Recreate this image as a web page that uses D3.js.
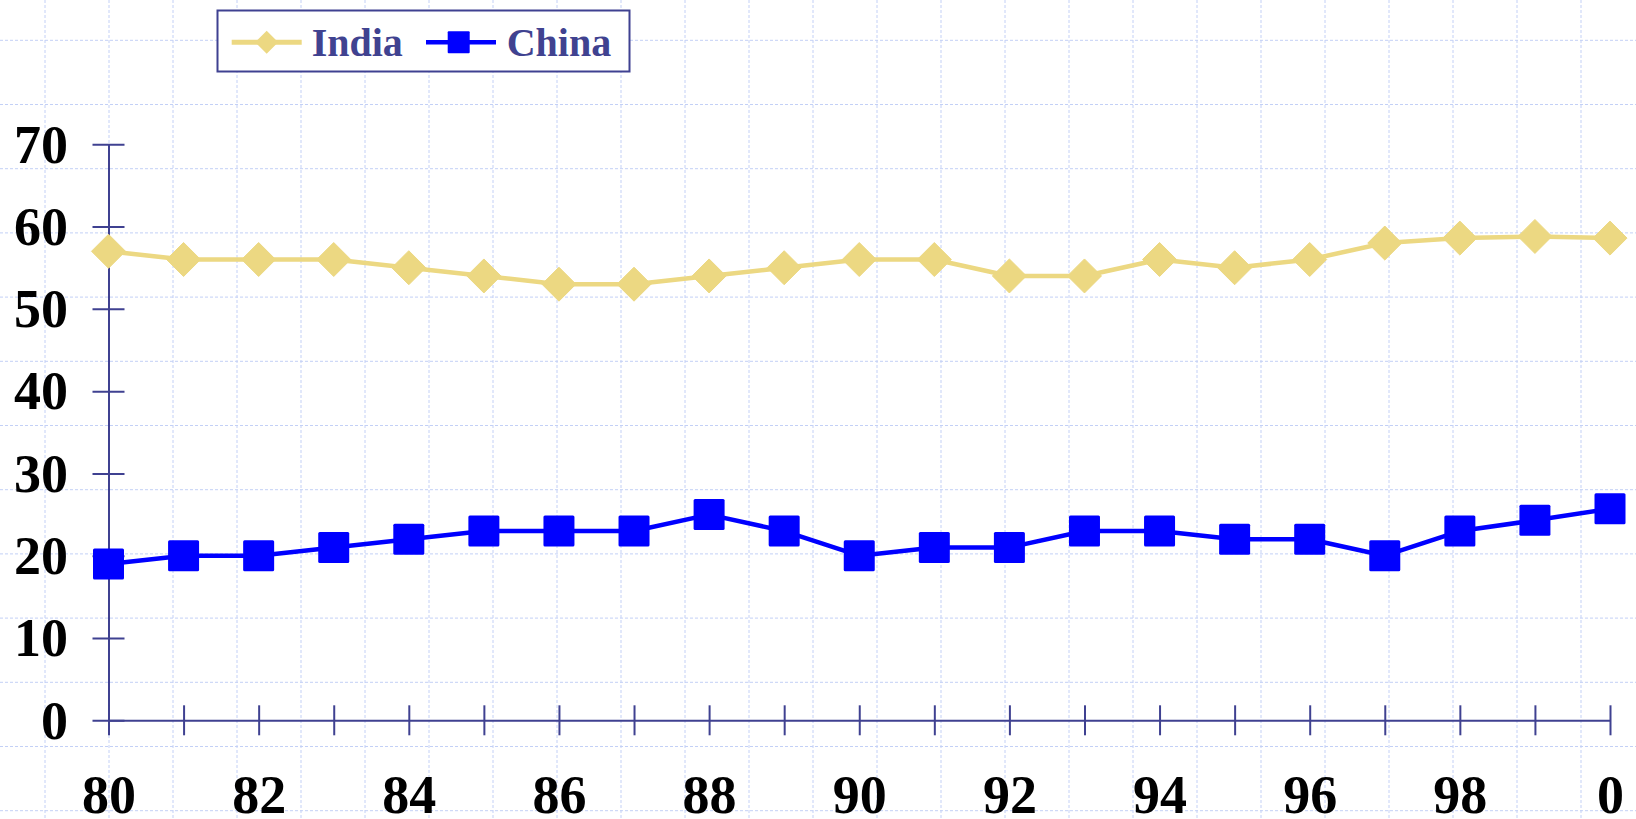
<!DOCTYPE html>
<html>
<head>
<meta charset="utf-8">
<script src="https://cdn.jsdelivr.net/npm/d3@7"></script>
<style>
  html, body { margin: 0; padding: 0; background: #fff; }
  svg { display: block; }
  text { font-family: "Liberation Serif", "Times New Roman", serif; font-weight: bold; }
</style>
</head>
<body>
<svg id="chart" width="1636" height="819"></svg>
<script>
// Years along the x axis (two-digit form) and the ones that carry a label
const years = ["80","81","82","83","84","85","86","87","88","89","90",
               "91","92","93","94","95","96","97","98","99","0"];
const yearLabels = ["80","82","84","86","88","90","92","94","96","98","0"];

// Series values, one per year
const india = [57, 56, 56, 56, 55, 54, 53, 53, 54, 55, 56,
               56, 54, 54, 56, 55, 56, 58, 58.6, 58.8, 58.6];
const china = [19, 20, 20, 21, 22, 23, 23, 23, 25, 23, 20,
               21, 21, 23, 23, 22, 22, 20, 23, 24.3, 25.7];

const yTicks = [0, 10, 20, 30, 40, 50, 60, 70];

const seriesNames = ["India", "China"];
const seriesColors = ["#ecd882", "#0000ff"];

const W = 1636, H = 819;
const axisColor = "#3f4191";

const svg = d3.select("#chart");

// Background page grid (light dashed lines)
const grid = svg.append("g").attr("class", "page-grid");
for (let gx = 45; gx <= W; gx += 64) {
  grid.append("line").attr("x1", gx).attr("x2", gx).attr("y1", 0).attr("y2", H);
}
for (let gy = 40.3; gy <= H; gy += 64.2) {
  grid.append("line").attr("x1", 0).attr("x2", W).attr("y1", gy).attr("y2", gy);
}
grid.selectAll("line")
  .attr("stroke", "#c3d0f6")
  .attr("stroke-width", 1)
  .attr("stroke-dasharray", "3,2");

// Scales
const x = d3.scalePoint().domain(years).range([108.5, 1610]);
const y = d3.scaleLinear().domain([0, 70]).range([720.3, 144.3]);

// Y axis with ticks crossing the axis line
const yAxis = svg.append("g")
  .attr("transform", `translate(${x(years[0])},0)`)
  .call(d3.axisLeft(y).tickValues(yTicks).tickSize(16).tickSizeOuter(0).tickFormat(d3.format("d")));
yAxis.select(".domain").attr("stroke", axisColor).attr("stroke-width", 2);
yAxis.selectAll(".tick line").attr("x1", 16).attr("stroke", axisColor).attr("stroke-width", 2);
yAxis.selectAll(".tick text")
  .attr("x", -40.5)
  .attr("dy", "0.33em")
  .attr("fill", "#000")
  .style("font-size", "54px")
  .style("font-family", "'Liberation Serif', 'Times New Roman', serif")
  .style("font-weight", "bold");

// X axis with ticks crossing the axis line, labels on even years
const xAxis = svg.append("g")
  .attr("transform", `translate(0,${y(0)})`)
  .call(d3.axisBottom(x).tickSize(15).tickSizeOuter(0)
    .tickFormat(d => yearLabels.includes(d) ? d : ""));
xAxis.select(".domain").attr("stroke", axisColor).attr("stroke-width", 2);
xAxis.selectAll(".tick line").attr("y1", -15).attr("stroke", axisColor).attr("stroke-width", 2);
xAxis.selectAll(".tick text")
  .attr("y", 92.7)
  .attr("dy", 0)
  .attr("fill", "#000")
  .style("font-size", "54px")
  .style("font-family", "'Liberation Serif', 'Times New Roman', serif")
  .style("font-weight", "bold");

// Lines
const line = d3.line().x((d, i) => x(years[i])).y(d => y(d));

svg.append("path").datum(india)
  .attr("d", line).attr("fill", "none")
  .attr("stroke", seriesColors[0]).attr("stroke-width", 4.5).attr("stroke-linejoin", "round");

svg.append("path").datum(china)
  .attr("d", line).attr("fill", "none")
  .attr("stroke", seriesColors[1]).attr("stroke-width", 4.5).attr("stroke-linejoin", "round");

// Markers: diamonds for India, squares for China
const diamond = r => `M0,${-r}L${r},0L0,${r}L${-r},0Z`;

svg.append("g").selectAll("path")
  .data(india).join("path")
  .attr("transform", (d, i) => `translate(${x(years[i])},${y(d)})`)
  .attr("d", diamond(17))
  .attr("fill", seriesColors[0])
  .attr("stroke", seriesColors[0]).attr("stroke-width", 1).attr("stroke-linejoin", "round");

const sq = 31;
svg.append("g").selectAll("rect")
  .data(china).join("rect")
  .attr("x", (d, i) => x(years[i]) - sq / 2)
  .attr("y", d => y(d) - sq / 2)
  .attr("width", sq).attr("height", sq)
  .attr("rx", 1.5)
  .attr("fill", seriesColors[1]);

// Legend
const legend = svg.append("g").attr("class", "legend");
legend.append("rect")
  .attr("x", 217.5).attr("y", 10.5).attr("width", 412).attr("height", 61)
  .attr("fill", "#fff").attr("stroke", axisColor).attr("stroke-width", 2);

const legendY = 42.3;
// India entry
legend.append("line").attr("x1", 231.7).attr("x2", 301.7).attr("y1", legendY).attr("y2", legendY)
  .attr("stroke", seriesColors[0]).attr("stroke-width", 5);
legend.append("path").attr("transform", `translate(266.7,${legendY})`)
  .attr("d", diamond(11.5)).attr("fill", seriesColors[0]);
legend.append("text").attr("x", 311.7).attr("y", 55.5).text(seriesNames[0])
  .attr("fill", "#404290").style("font-size", "40px");
// China entry
legend.append("line").attr("x1", 426).attr("x2", 496).attr("y1", legendY).attr("y2", legendY)
  .attr("stroke", seriesColors[1]).attr("stroke-width", 4.5);
legend.append("rect").attr("x", 458.7 - 11).attr("y", legendY - 11).attr("width", 22).attr("height", 22)
  .attr("rx", 1).attr("fill", seriesColors[1]);
legend.append("text").attr("x", 506.7).attr("y", 55.5).text(seriesNames[1])
  .attr("fill", "#404290").style("font-size", "40px");
</script>
</body>
</html>
